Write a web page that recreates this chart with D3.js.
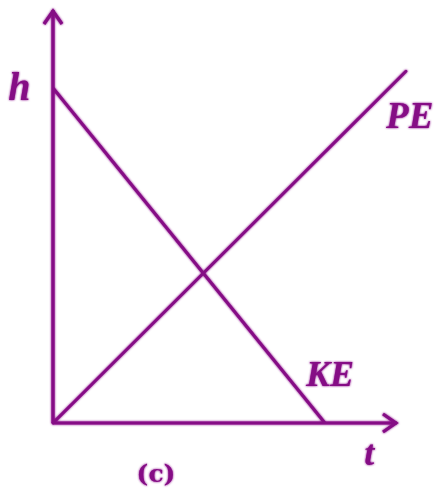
<!DOCTYPE html>
<html><head><meta charset="utf-8">
<script src="https://cdn.jsdelivr.net/npm/d3@7"></script>
<style>body{margin:0;background:#fff}svg{display:block}</style>
</head><body><svg id="c" width="441" height="491"></svg>
<script>
const tDomain = [0, 1.265];
const eDomain = [0, 1.233];
const keLine = [{t: 0, e: 1}, {t: 1, e: 0}];
const peLine = [{t: 0, e: 0}, {t: 1.298, e: 1.05}];
const labels = [
  {text: "h", t: -0.165, e: 0.965, size: 40},
  {text: "PE", t: 1.225, e: 0.88, size: 37},
  {text: "KE", t: 0.93, e: 0.11, size: 36},
  {text: "t", t: 1.145, e: -0.125, size: 36}
];
const caption = "(c)";

const col = "#850a85";
const svg = d3.select("#c");
const x = d3.scaleLinear().domain(tDomain).range([53, 397]);
const y = d3.scaleLinear().domain(eDomain).range([423, 10]);

const defs = svg.append("defs");
const f = defs.append("filter").attr("id","glow").attr("x","-20%").attr("y","-20%").attr("width","140%").attr("height","140%");
f.append("feGaussianBlur").attr("in","SourceGraphic").attr("stdDeviation",0.9).attr("result","b");
const m = f.append("feMerge"); m.append("feMergeNode").attr("in","b"); m.append("feMergeNode").attr("in","SourceGraphic");

const g = svg.append("g").attr("filter","url(#glow)");
const line = d3.line().x(d => x(d.t)).y(d => y(d.e));

// axes
g.append("path").attr("d", line([{t:0,e:0},{t:0,e:eDomain[1]}]))
  .attr("stroke", col).attr("stroke-width", 3.2).attr("fill","none");
g.append("path").attr("d", line([{t:0,e:0},{t:tDomain[1],e:0}]))
  .attr("stroke", col).attr("stroke-width", 3.2).attr("fill","none");
// arrowheads
const ax = x(0), ay = y(eDomain[1]);
g.append("path").attr("d", `M${ax-9},${ay+14} L${ax},${ay+1} L${ax+9},${ay+14}`)
  .attr("stroke", col).attr("stroke-width", 3.2).attr("fill","none").attr("stroke-linejoin","miter");
const bx = x(tDomain[1]), by = y(0);
g.append("path").attr("d", `M${bx-14},${by-9} L${bx-1},${by} L${bx-14},${by+9}`)
  .attr("stroke", col).attr("stroke-width", 3.2).attr("fill","none").attr("stroke-linejoin","miter");

g.append("path").attr("d", line(keLine)).attr("stroke", col).attr("stroke-width", 3).attr("fill","none");
g.append("path").attr("d", line(peLine)).attr("stroke", col).attr("stroke-width", 3).attr("fill","none").attr("stroke-linecap","round");

g.selectAll("text.lbl").data(labels).join("text").attr("class","lbl")
  .attr("x", d => x(d.t)).attr("y", d => y(d.e))
  .attr("font-family", "'Liberation Serif', 'DejaVu Serif', serif")
  .attr("font-weight", "bold").attr("font-style", "italic")
  .attr("font-size", d => d.size).attr("fill", col).text(d => d.text);

g.append("text").attr("x", 156).attr("y", 482).attr("text-anchor","middle")
  .attr("font-family", "'DejaVu Serif', serif").attr("font-weight","bold")
  .attr("font-size", 25).attr("fill", col).text(caption);
</script></body></html>
